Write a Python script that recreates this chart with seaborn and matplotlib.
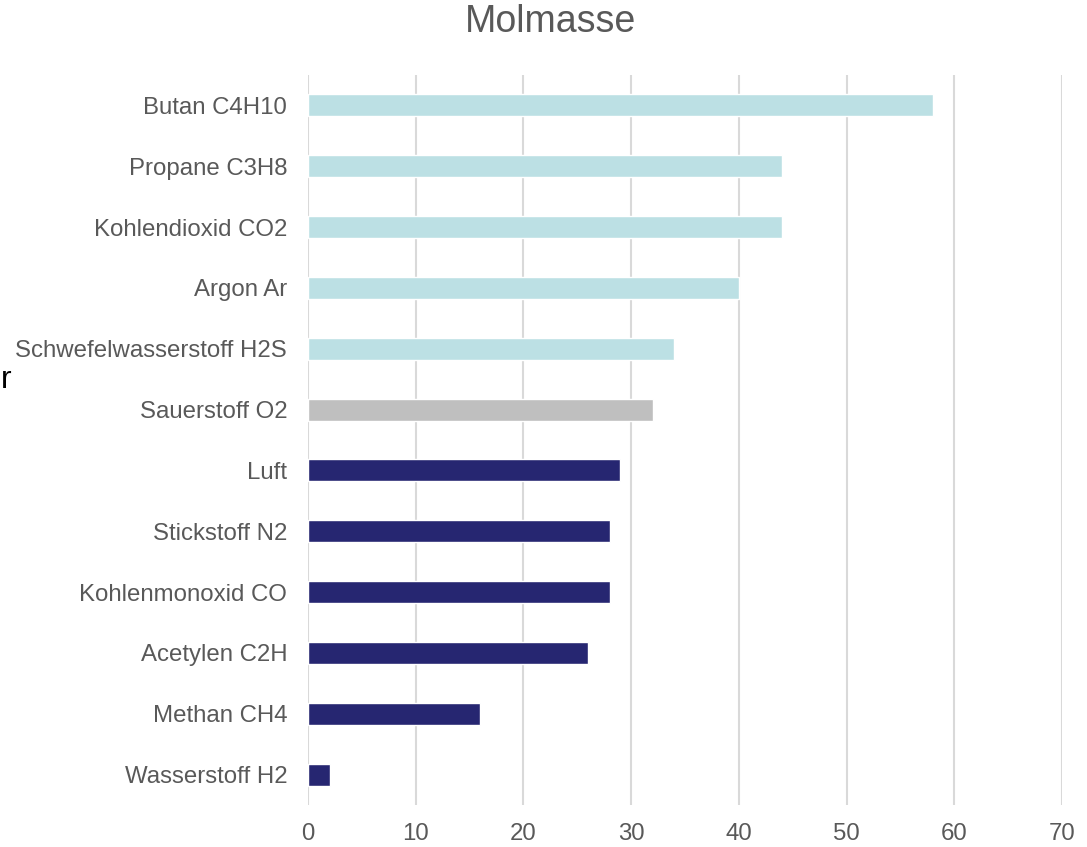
import matplotlib
matplotlib.use("Agg")
import matplotlib.pyplot as plt
import seaborn as sns
import pandas as pd

categories = ["Butan C4H10", "Propane C3H8", "Kohlendioxid CO2", "Argon Ar",
              "Schwefelwasserstoff H2S", "Sauerstoff O2", "Luft", "Stickstoff N2",
              "Kohlenmonoxid CO", "Acetylen C2H", "Methan CH4", "Wasserstoff H2"]
values = [58, 44, 44, 40, 34, 32, 29, 28, 28, 26, 16, 2]
groups = ["schwer"] * 5 + ["gleich"] + ["leicht"] * 6
group_colors = {"schwer": "#BCE0E4", "gleich": "#BFBFBF", "leicht": "#262671"}
x_ticks = [0, 10, 20, 30, 40, 50, 60, 70]

sns.set_theme(style="white")
plt.rcParams["font.family"] = ["Liberation Sans", "DejaVu Sans"]

df = pd.DataFrame({"Gas": categories, "Molmasse": values, "Gruppe": groups})

fig = plt.figure(figsize=(10.87, 8.47), dpi=100)
ax = fig.add_axes([0.2834, 0.0496, 0.9770 - 0.2834, 0.9115 - 0.0496])

sns.barplot(data=df, x="Molmasse", y="Gas", hue="Gruppe", palette=group_colors,
            dodge=False, width=0.36, legend=False, ax=ax, saturation=1)

ax.set_xlim(0, 70)
ax.set_ylim(11.5, -0.5)
ax.set_xticks(x_ticks)
ax.set_xlabel("")
ax.set_ylabel("")
for s in ax.spines.values():
    s.set_visible(False)
ax.grid(axis="x", color="#D9D9D9", linewidth=1.5)
ax.set_axisbelow(True)
ax.tick_params(axis="both", length=0, labelsize=17.3, colors="#595959")
ax.tick_params(axis="x", pad=13)
ax.tick_params(axis="y", pad=15)

fig.text(0.5065, 0.974, "Molmasse", ha="center", va="center", fontsize=27, color="#595959")
fig.text(0.0005, 0.551, "r", ha="left", va="center", fontsize=23, color="#000000")

fig.savefig("out.png", dpi=100)
